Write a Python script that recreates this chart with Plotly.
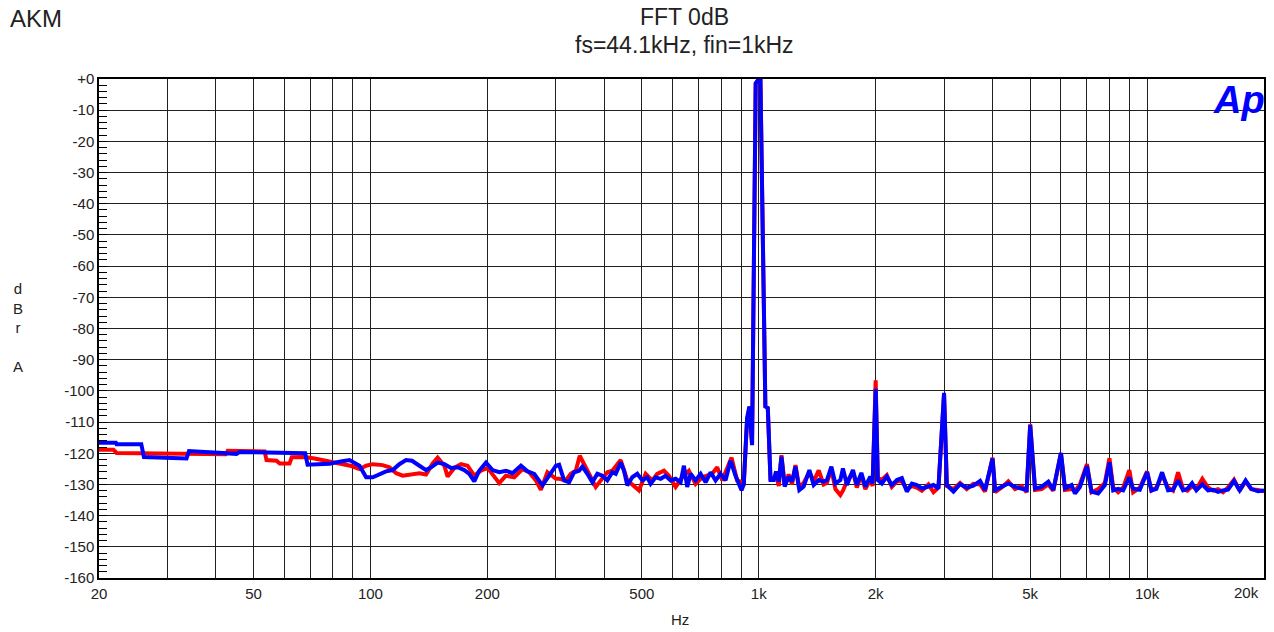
import plotly.graph_objects as go

# ---------------- data (frequency in Hz, level in dBrA) ----------------
blue_low_f = [20, 22.1, 22.2, 25.7, 26.1, 33.6, 34.1, 39.3, 40.1, 45.2, 46.0, 53.9, 65.7, 67.9, 68.9, 78.5, 83.2, 88.3]
blue_low_db = [-116.6, -116.6, -117.1, -117.1, -121.2, -121.7, -119.3, -119.6, -119.9, -120.2, -119.6, -119.8,
               -120.0, -120.0, -123.7, -123.4, -122.7, -122.2]

blue_mid_f = [93.7, 97.5, 101.4, 105.5, 109.7, 114.1, 118.7, 123.5, 128.0, 133.7, 139.1, 143.3, 149.0, 155.0,
              161.3, 167.7, 174.5, 179.7, 185.1, 190.6, 198.4, 206.3, 214.6, 223.3, 232.2, 244.1, 253.8, 264.1,
              277.4, 288.6, 300.3,
              306.1, 315.3, 324.8, 334.5, 344.6, 351.4, 361.9, 372.8, 384.0, 395.6, 407.4, 419.7, 428.2, 441.0,
              449.8, 458.6, 472.4, 486.6, 501.2, 516.3, 526.7, 542.6, 558.9, 575.7, 592.9, 610.8, 629.2, 641.6,
              654.2, 667.5, 687.6, 708.3, 729.6, 751.5, 774.1, 797.3, 821.3, 845.9, 871.3, 902.8]
blue_mid_db = [-124.0, -127.7, -127.7, -126.6, -125.8, -125.4, -123.5, -122.2, -122.4, -124.0, -125.4, -124.5,
               -123.0, -123.5, -124.7, -124.5, -125.4, -126.6, -129.0, -125.6, -123.0, -125.4, -126.1, -125.6,
               -126.4, -124.0, -125.8, -126.6, -130.3, -127.2, -124.0,
               -123.7, -128.7, -129.3, -126.1, -125.6, -124.3, -126.6, -129.3, -126.6, -127.2, -128.7, -126.1,
               -126.6, -123.0, -125.6, -130.3, -127.7, -126.6, -128.7, -127.7, -129.8, -127.7, -128.2, -127.2,
               -128.7, -128.2, -129.3, -124.0, -130.8, -126.6, -128.7, -126.6, -129.3, -126.1, -128.7, -126.6,
               -128.7, -122.4, -127.2, -131.9]

peak_f = [915, 933, 946, 961, 982, 1000, 1010, 1040, 1055, 1072]
blue_peak_db = [-130.0, -108.7, -105.0, -117.4, -1.4, 0.0, -0.3, -105.0, -105.5, -128.6]
red_peak_db = [-129.5, -109.5, -105.5, -117.0, -1.4, 0.0, -0.3, -105.0, -105.5, -128.0]

hi_f = [1093, 1108, 1126, 1144, 1166, 1194, 1218, 1243, 1272, 1305, 1350, 1385, 1427, 1469, 1498, 1538, 1575,
        1622, 1647, 1687, 1748, 1789, 1837, 1881, 1937, 1964, 2000, 2026, 2075, 2137, 2201, 2268, 2336, 2406,
        2479, 2553, 2630, 2735, 2818, 2902, 3000, 3050, 3172,
        3299, 3432, 3570, 3715, 3825, 4000, 4061, 4222, 4392, 4570, 4753, 4895, 5000, 5145, 5350, 5567, 5734,
        6000, 6145, 6389, 6519, 6714, 7000, 7193, 7482, 7785,
        8000, 8178, 8423, 8677, 9000, 9205, 9577, 10000, 10257, 10566, 10928, 11324, 11664, 12015, 12377,
        12697, 13055, 13391, 13876, 14351, 14783, 15228, 15686, 16158, 16744, 17311, 17935, 18540, 19289, 20000]
blue_hi_db = [-128.6, -125.9, -129.1, -121.1, -130.7, -127.5, -129.1, -124.3, -131.8, -130.7, -125.4, -130.2,
              -128.6, -129.1, -128.6, -124.3, -129.7, -128.6, -124.9, -130.2, -125.4, -130.2, -126.3, -130.7,
              -127.5, -129.7, -99.3, -128.6, -129.7, -127.5, -130.2, -128.6, -128.0, -132.3, -129.7, -130.2,
              -131.3, -130.7, -130.2, -131.3, -100.6, -130.2, -132.3,
              -129.9, -131.0, -130.4, -128.9, -131.8, -121.7, -131.8, -130.8, -129.7, -130.8, -131.3, -131.8,
              -111.0, -131.3, -130.8, -129.1, -131.8, -119.9, -131.3, -130.2, -132.9, -130.8, -124.1, -132.3,
              -132.9, -130.2,
              -122.9, -131.9, -131.4, -131.9, -127.7, -131.4, -131.7, -126.1, -131.9, -131.4, -126.1, -131.9,
              -131.7, -128.7, -131.9, -131.4, -129.6, -131.9, -130.0, -131.9, -131.7, -132.4, -131.9, -131.7,
              -128.9, -131.9, -128.7, -131.4, -132.2, -131.9]

red_low_f = [20, 21.8, 22.2, 34.2, 42.4, 42.9, 53.4, 54.0, 57.3, 58.4, 61.9, 62.7, 67.7, 71.8, 78.5, 84.2, 89.4]
red_low_db = [-118.9, -118.9, -119.9, -120.2, -120.3, -119.2, -119.4, -122.2, -122.4, -123.3, -123.3, -121.3,
              -121.2, -121.7, -122.7, -123.7, -124.1]

red_mid_f = [93.7, 97.5, 101.4, 107.5, 111.9, 116.5, 121.1, 127.2, 133.7, 139.1, 144.6, 149.0, 155.0, 158.0,
             164.4, 171.1, 177.9, 185.1, 192.6, 200.3, 208.4, 214.6, 223.3, 234.6, 246.4, 256.3, 266.7, 274.7,
             285.6, 300.3,
             306.1, 318.5, 328.0, 337.9, 346.0, 354.9, 369.3, 380.4, 391.9, 407.4, 419.7, 441.0, 458.6, 477.1,
             491.5, 511.3, 531.7, 547.7, 570.0, 587.0, 610.8, 635.1, 660.8, 687.6, 715.0, 758.6, 781.5, 805.1,
             851.0, 879.6, 906.0]
red_mid_db = [-125.1, -124.0, -123.5, -123.8, -124.5, -126.4, -127.2, -126.8, -126.4, -126.8, -123.3, -121.4,
              -124.0, -127.5, -124.7, -123.5, -124.0, -127.2, -125.6, -124.7, -127.7, -129.6, -127.2, -127.7,
              -125.1, -126.1, -128.7, -131.7, -126.1, -128.2,
              -128.2, -128.7, -126.6, -125.6, -120.8, -123.5, -127.7, -130.8, -128.7, -126.1, -125.6, -122.2,
              -128.7, -130.3, -131.9, -126.6, -128.7, -126.6, -125.6, -127.2, -130.8, -127.7, -125.6, -129.8,
              -127.7, -126.6, -124.5, -128.7, -121.4, -128.7, -129.2]

red_hi_db = [-128.0, -127.0, -130.5, -120.6, -130.0, -126.8, -130.0, -123.8, -131.0, -129.5, -126.0, -129.0,
             -125.5, -130.0, -129.5, -125.0, -131.5, -133.4, -132.0, -129.0, -126.0, -131.0, -127.0, -131.5,
             -128.5, -130.5, -96.6, -128.0, -128.5, -127.0, -130.8, -129.0, -129.0, -131.5, -130.5, -131.0,
             -132.0, -130.0, -132.5, -131.0, -101.0, -130.5, -131.5,
             -129.5, -131.5, -129.8, -130.0, -132.3, -121.4, -132.5, -131.0, -129.0, -131.5, -130.5, -132.5,
             -110.7, -131.8, -131.5, -130.0, -132.0, -120.0, -131.8, -131.5, -132.0, -130.0, -123.5, -132.5,
             -131.5, -129.5,
             -121.6, -131.0, -132.5, -131.0, -125.4, -132.5, -131.0, -125.8, -132.0, -131.0, -127.0, -131.0,
             -132.0, -126.1, -131.5, -132.0, -130.5, -131.5, -128.2, -131.0, -132.0, -131.5, -132.5, -131.0,
             -128.5, -132.0, -129.0, -131.5, -131.8, -132.2]

x_grid = [20, 30, 40, 50, 60, 70, 80, 90, 100, 200, 300, 400, 500, 600, 700, 800, 900,
          1000, 2000, 3000, 4000, 5000, 6000, 7000, 8000, 9000, 10000, 20000]
x_labels = {20: "20", 50: "50", 100: "100", 200: "200", 500: "500", 1000: "1k", 2000: "2k",
            5000: "5k", 10000: "10k"}
y_ticks = list(range(-160, 1, 10))
y_labels = ["+0" if v == 0 else str(v) for v in y_ticks]

FONT = "Liberation Sans, Arial, sans-serif"

fig = go.Figure()
fig.add_trace(go.Scatter(x=red_low_f + red_mid_f + peak_f + hi_f,
                         y=red_low_db + red_mid_db + red_peak_db + red_hi_db,
                         mode="lines", line=dict(color="#ff0000", width=4), name="L"))
fig.add_trace(go.Scatter(x=blue_low_f + blue_mid_f + peak_f + hi_f,
                         y=blue_low_db + blue_mid_db + blue_peak_db + blue_hi_db,
                         mode="lines", line=dict(color="#0000ff", width=4), name="R"))

fig.update_layout(
    width=1274, height=632,
    margin=dict(l=99, r=8, t=79, b=54),
    paper_bgcolor="white", plot_bgcolor="white",
    showlegend=False,
    font=dict(family=FONT, size=15, color="#222"),
)
fig.update_xaxes(
    type="log", range=[1.30103, 4.30103],
    tickvals=x_grid, ticktext=[x_labels.get(v, "") for v in x_grid],
    showgrid=True, gridcolor="#202020", gridwidth=1,
    showline=True, mirror=True, linecolor="black", linewidth=1.5,
    ticks="", ticklabelstandoff=1, zeroline=False,
    tickfont=dict(family=FONT, size=15, color="#222"),
)
fig.update_yaxes(
    range=[-160, 0],
    tickvals=y_ticks, ticktext=y_labels,
    showgrid=True, gridcolor="#202020", gridwidth=1,
    showline=True, mirror=True, linecolor="black", linewidth=1.5,
    ticks="inside", ticklen=8, tickcolor="black", tickwidth=1,
    minor=dict(dtick=2, ticks="inside", ticklen=8, tickcolor="black", tickwidth=1, showgrid=False),
    zeroline=False, ticklabelstandoff=0,
    tickfont=dict(family=FONT, size=15, color="#222"),
)

ann = [
    dict(text="AKM", x=-0.078, y=1.122, xanchor="left", yanchor="middle", font=dict(size=24)),
    dict(text="FFT 0dB", x=0.503, y=1.124, xanchor="center", yanchor="middle", font=dict(size=23)),
    dict(text="fs=44.1kHz, fin=1kHz", x=0.503, y=1.068, xanchor="center", yanchor="middle", font=dict(size=23)),
    dict(text="d<br>B<br>r<br><br>A", x=-0.0694, y=0.502, xanchor="center", yanchor="middle",
         font=dict(size=15), align="center"),
    dict(text="Hz", x=0.4987, y=-0.084, xanchor="center", yanchor="middle", font=dict(size=15)),
    dict(text="20k", x=0.9854, y=-0.03, xanchor="center", yanchor="middle", font=dict(size=15)),
    dict(text="<b><i>Ap</i></b>", x=1.0, y=1.0, xanchor="right", yanchor="top", xshift=3, yshift=2,
         font=dict(size=38, color="#0000ff")),
]
for a in ann:
    a.update(xref="paper", yref="paper", showarrow=False)
    a.setdefault("font", {})
    a["font"].setdefault("family", FONT)
    a["font"].setdefault("color", "#222")
    fig.add_annotation(**a)

fig.write_html("out.html", config={"displayModeBar": False},
               post_script="document.body.style.margin='0';")
